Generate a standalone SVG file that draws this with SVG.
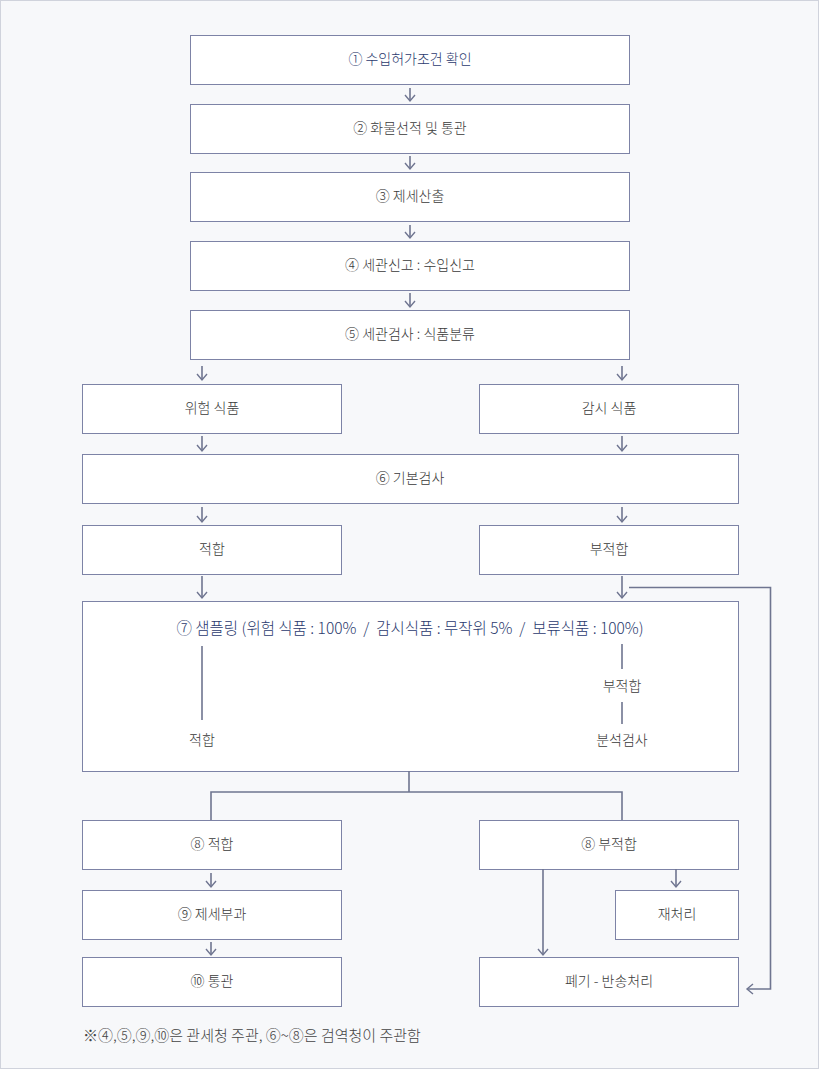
<svg xmlns="http://www.w3.org/2000/svg" width="819" height="1069" viewBox="0 0 819 1069">
<style>
.b{fill:#fff;stroke:#7d83a6;stroke-width:1}
.t{font-family:"Noto Sans CJK KR","Noto Sans",sans-serif;font-size:14px;fill:#3a3a3a;text-anchor:middle;font-weight:300}
.n{fill:#2b3a6e}
.c{fill:none;stroke:#6f7590;stroke-width:1.6}
</style>
<defs><marker id="a" markerWidth="10" markerHeight="12" refX="8" refY="6" orient="auto" markerUnits="userSpaceOnUse" viewBox="0 0 10 12"><path d="M2,1 L8,6 L2,11" fill="none" stroke="#6f7590" stroke-width="1.4"/></marker></defs>
<rect x="0.5" y="0.5" width="818" height="1068" fill="#f7f8fa" stroke="#d0d3dc"/>
<g id="n1"><rect class="b" x="190.5" y="35.5" width="439" height="49"/><text class="t n" x="410" y="64">① 수입허가조건 확인</text></g>
<g id="n2"><rect class="b" x="190.5" y="104.5" width="439" height="49"/><text class="t" x="410" y="133">② 화물선적 및 통관</text></g>
<g id="n3"><rect class="b" x="190.5" y="172.5" width="439" height="49"/><text class="t" x="410" y="201">③ 제세산출</text></g>
<g id="n4"><rect class="b" x="190.5" y="241.5" width="439" height="49"/><text class="t" x="410" y="270">④ 세관신고 : 수입신고</text></g>
<g id="n5"><rect class="b" x="190.5" y="310.5" width="439" height="49"/><text class="t" x="410" y="339">⑤ 세관검사 : 식품분류</text></g>
<g id="n6"><rect class="b" x="82.5" y="384.5" width="259" height="49"/><text class="t" x="212" y="413">위험 식품</text></g>
<g id="n7"><rect class="b" x="479.5" y="384.5" width="259" height="49"/><text class="t" x="609" y="413">감시 식품</text></g>
<g id="n8"><rect class="b" x="82.5" y="454.5" width="656" height="49"/><text class="t" x="410" y="483">⑥ 기본검사</text></g>
<g id="n9"><rect class="b" x="82.5" y="525.5" width="259" height="49"/><text class="t" x="212" y="554">적합</text></g>
<g id="n10"><rect class="b" x="479.5" y="525.5" width="259" height="49"/><text class="t" x="609" y="554">부적합</text></g>
<g id="n11"><rect class="b" x="82.5" y="601.5" width="656" height="170"/>
<text class="t n" x="410" y="634" style="font-size:15.5px;white-space:pre" xml:space="preserve">⑦ 샘플링 (위험 식품 : 100%  /  감시식품 : 무작위 5%  /  보류식품 : 100%)</text>
<text class="t" x="202" y="745">적합</text><text class="t" x="622" y="691">부적합</text><text class="t" x="622" y="745">분석검사</text></g>
<g id="n12"><rect class="b" x="82.5" y="820.5" width="259" height="49"/><text class="t" x="212" y="849">⑧ 적합</text></g>
<g id="n13"><rect class="b" x="479.5" y="820.5" width="259" height="49"/><text class="t" x="609" y="849">⑧ 부적합</text></g>
<g id="n14"><rect class="b" x="82.5" y="890.5" width="259" height="49"/><text class="t" x="212" y="919">⑨ 제세부과</text></g>
<g id="n15"><rect class="b" x="82.5" y="957.5" width="259" height="49"/><text class="t" x="212" y="986">⑩ 통관</text></g>
<g id="n16"><rect class="b" x="615.5" y="890.5" width="123" height="49"/><text class="t" x="677" y="919">재처리</text></g>
<g id="n17"><rect class="b" x="479.5" y="957.5" width="259" height="49"/><text class="t" x="609" y="986">폐기 - 반송처리</text></g>
<g id="connectors" class="c">
<path d="M410,88V101" marker-end="url(#a)"/><path d="M410,156V169" marker-end="url(#a)"/><path d="M410,225V238" marker-end="url(#a)"/><path d="M410,293V307" marker-end="url(#a)"/>
<path d="M202,366V380" marker-end="url(#a)"/><path d="M622,366V380" marker-end="url(#a)"/>
<path d="M202,436V451" marker-end="url(#a)"/><path d="M622,436V451" marker-end="url(#a)"/>
<path d="M202,507V522" marker-end="url(#a)"/><path d="M622,507V522" marker-end="url(#a)"/>
<path d="M202,576V598" marker-end="url(#a)"/><path d="M622,576V598" marker-end="url(#a)"/>
<path d="M629,587.5H770.5V989H747" marker-end="url(#a)"/>
<path d="M202,646V720M622,644V669M622,702V724"/>
<path d="M409,771V792M211,820V792H622V820"/>
<path d="M211,873V887" marker-end="url(#a)"/><path d="M211,942V955" marker-end="url(#a)"/>
<path d="M676,869V887" marker-end="url(#a)"/><path d="M543,869V955" marker-end="url(#a)"/>
</g>
<text x="83" y="1041" style="font-family:'Noto Sans CJK KR',sans-serif;font-size:15px;fill:#444;font-weight:300">※④,⑤,⑨,⑩은 관세청 주관, ⑥~⑧은 검역청이 주관함</text>
</svg>
